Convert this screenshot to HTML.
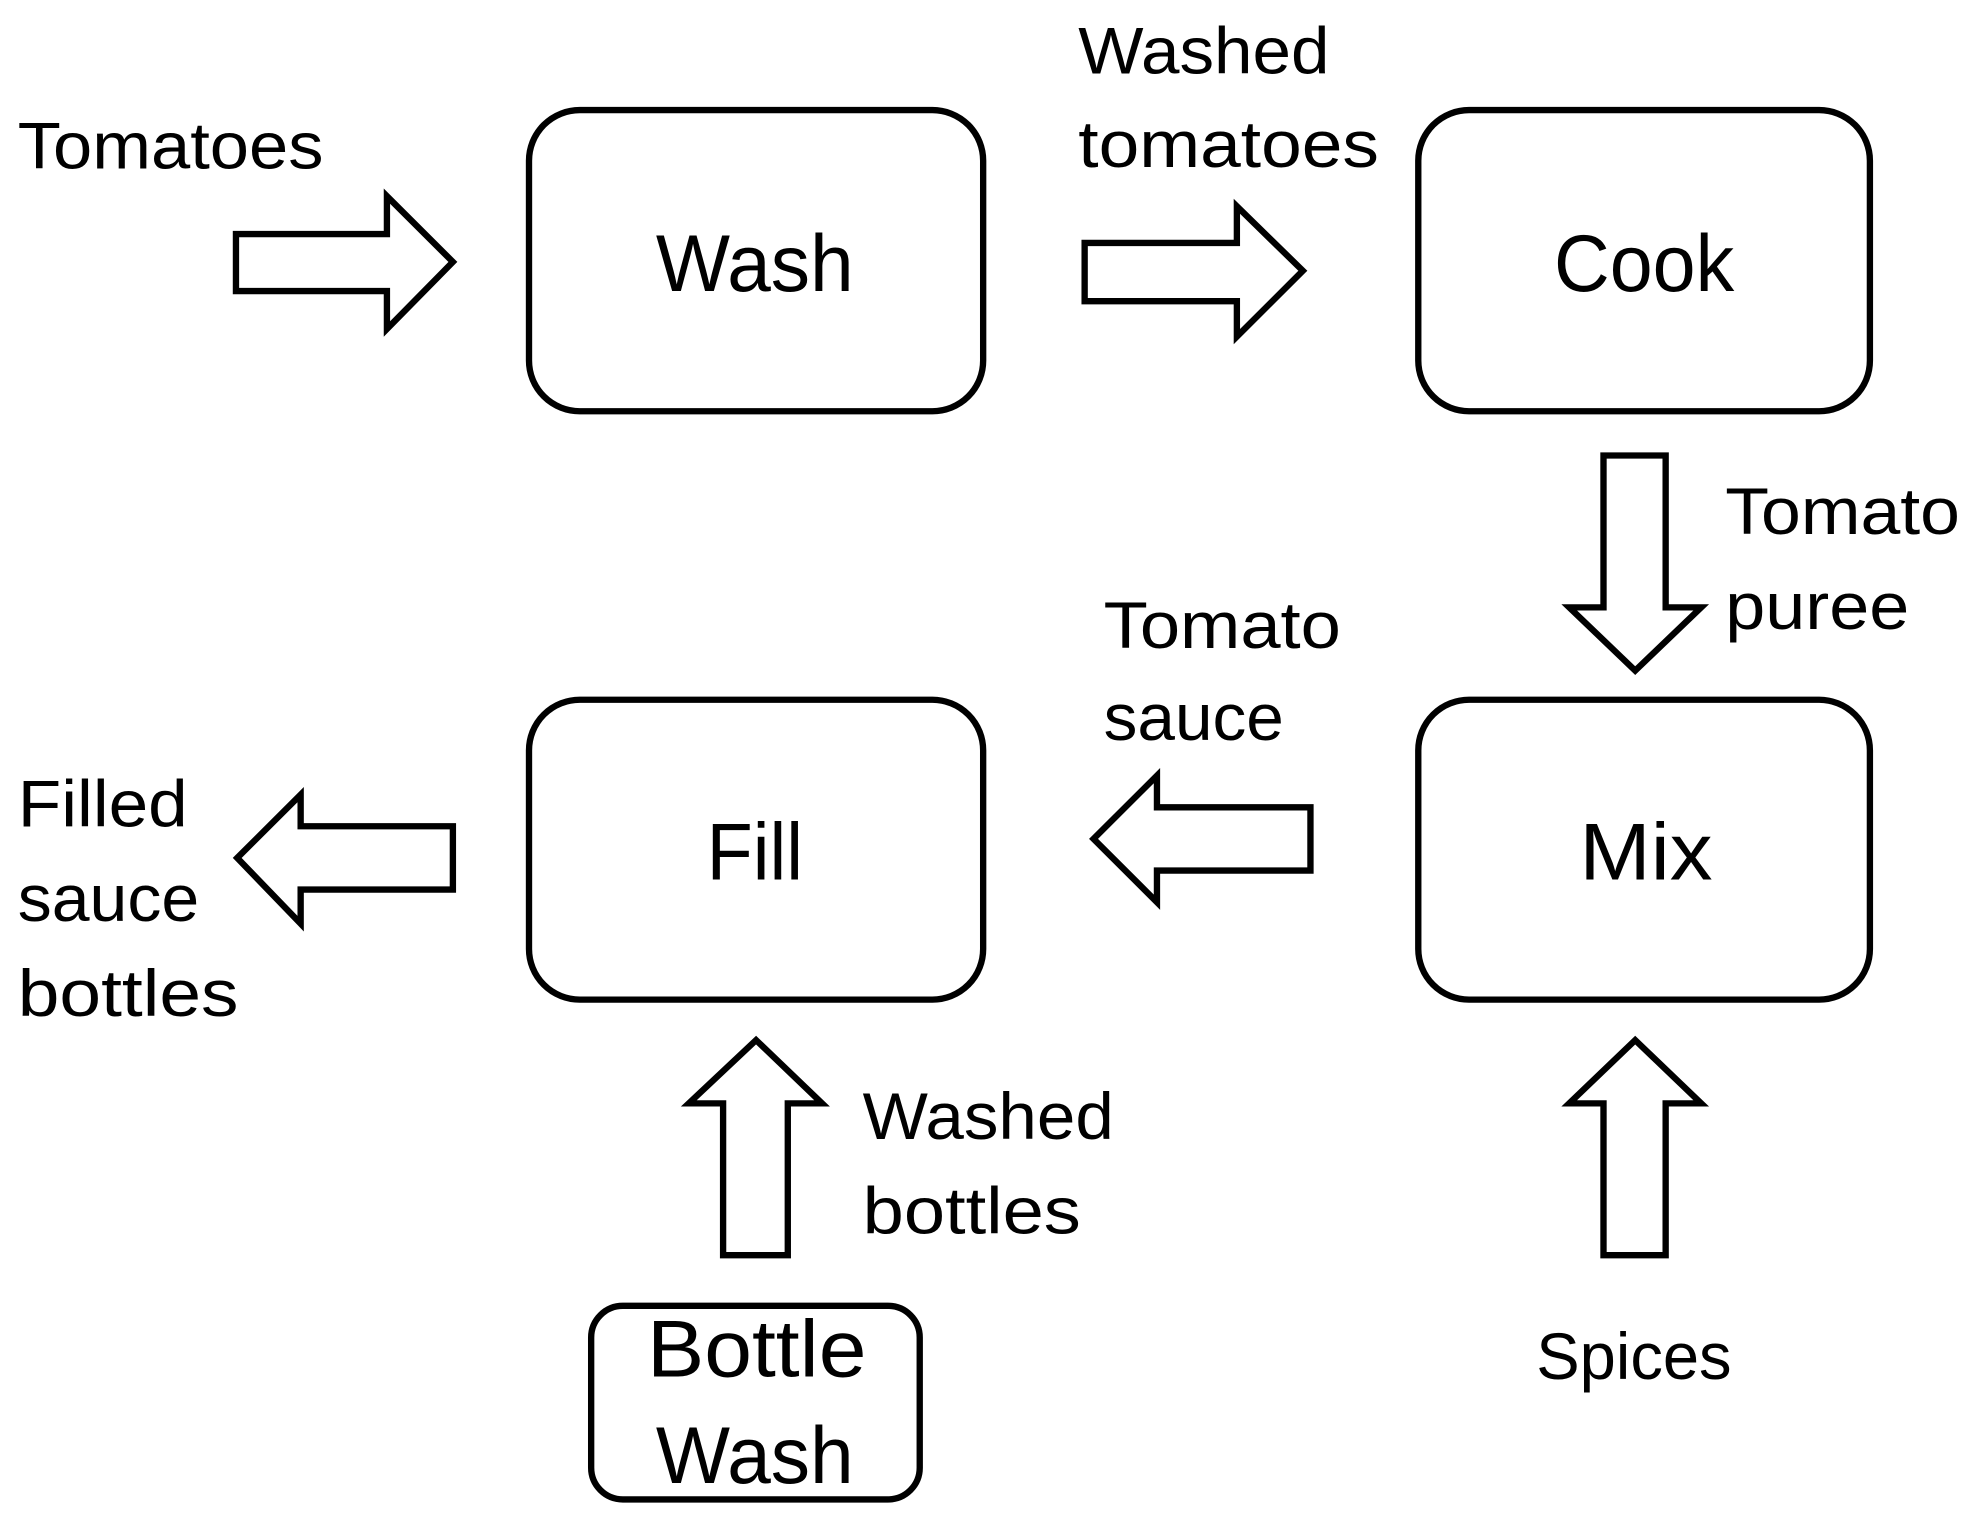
<!DOCTYPE html>
<html><head><style>html,body{margin:0;padding:0;background:#fff;}svg{display:block}</style></head>
<body>
<svg width="1979" height="1526" viewBox="0 0 1560 1206" preserveAspectRatio="none" xmlns="http://www.w3.org/2000/svg">
<g fill="#fff" stroke="#000" stroke-width="5" stroke-linejoin="miter">
<rect x="417" y="87" width="358" height="238" rx="40"/>
<rect x="1118" y="87" width="356" height="238" rx="40"/>
<rect x="417" y="553" width="358" height="237" rx="40"/>
<rect x="1118" y="553" width="356" height="237" rx="40"/>
<rect x="466" y="1032" width="259" height="153" rx="25"/>
<polygon points="186,185 305,185 305,155 357,207 305,260 305,230 186,230"/>
<polygon points="855,192 975,192 975,163 1027,214 975,266 975,238 855,238"/>
<polygon points="1264,360 1313,360 1313,480 1341,480 1289,530 1237,480 1264,480"/>
<polygon points="862,663 912,613 912,638 1033,638 1033,688 912,688 912,713"/>
<polygon points="187,678 237,628 237,653 357,653 357,703 237,703 237,730"/>
<polygon points="596,822 648,872 621,872 621,992 570,992 570,872 543,872"/>
<polygon points="1289,822 1341,872 1313,872 1313,992 1264,992 1264,872 1237,872"/>
</g>
<g font-family="Liberation Sans, sans-serif" fill="#000" font-size="52" lengthAdjust="spacingAndGlyphs">
<text x="14" y="133" textLength="241" lengthAdjust="spacingAndGlyphs">Tomatoes</text>
<text x="850" y="58" textLength="198" lengthAdjust="spacingAndGlyphs">Washed</text>
<text x="850" y="132" textLength="237" lengthAdjust="spacingAndGlyphs">tomatoes</text>
<text x="1360" y="422" textLength="185" lengthAdjust="spacingAndGlyphs">Tomato</text>
<text x="1360" y="497" textLength="145" lengthAdjust="spacingAndGlyphs">puree</text>
<text x="870" y="512" textLength="187" lengthAdjust="spacingAndGlyphs">Tomato</text>
<text x="870" y="585" textLength="142" lengthAdjust="spacingAndGlyphs">sauce</text>
<text x="14" y="653" textLength="134" lengthAdjust="spacingAndGlyphs">Filled</text>
<text x="14" y="728" textLength="143" lengthAdjust="spacingAndGlyphs">sauce</text>
<text x="14" y="803" textLength="174" lengthAdjust="spacingAndGlyphs">bottles</text>
<text x="680" y="900" textLength="198" lengthAdjust="spacingAndGlyphs">Washed</text>
<text x="680" y="975" textLength="172" lengthAdjust="spacingAndGlyphs">bottles</text>
<text x="1211" y="1090" textLength="154" lengthAdjust="spacingAndGlyphs">Spices</text>
<g font-size="64">
<text x="517" y="230" textLength="156" lengthAdjust="spacingAndGlyphs">Wash</text>
<text x="1225" y="230" textLength="142" lengthAdjust="spacingAndGlyphs">Cook</text>
<text x="557" y="695" textLength="76" lengthAdjust="spacingAndGlyphs">Fill</text>
<text x="1245" y="695" textLength="105" lengthAdjust="spacingAndGlyphs">Mix</text>
<text x="510" y="1088" textLength="173" lengthAdjust="spacingAndGlyphs">Bottle</text>
<text x="517" y="1172" textLength="156" lengthAdjust="spacingAndGlyphs">Wash</text>
</g>
</g>
</svg>
</body></html>
